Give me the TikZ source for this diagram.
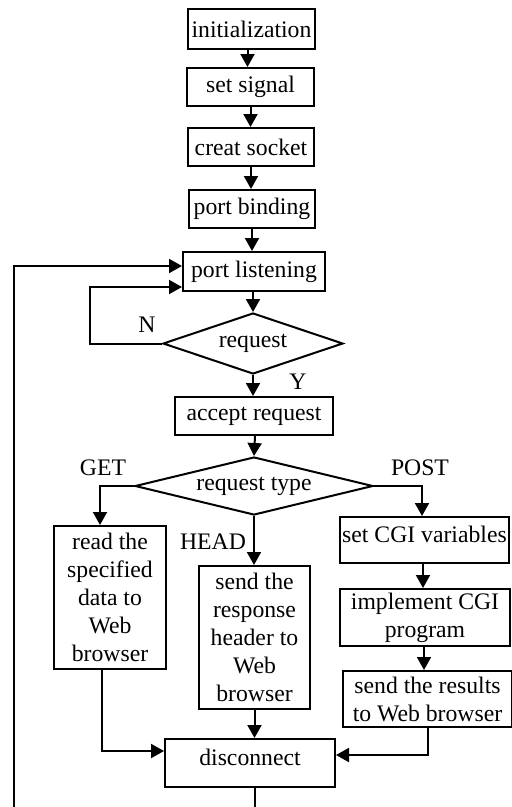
\documentclass[tikz,border=0pt]{standalone}
\usepackage{fontspec}
\setmainfont{Liberation Serif}
\usetikzlibrary{arrows.meta,shapes.geometric}
\begin{document}
\begin{tikzpicture}[x=1pt,y=-1pt,
  font=\fontsize{23.7}{28}\selectfont,
  every path/.style={line width=2pt},
  box/.style={draw,line width=2pt,inner sep=1pt,align=center},
  dia/.style={draw,line width=2pt,shape=diamond,inner sep=0pt},
  arr/.style={-{Triangle[length=13pt,width=14pt]}},
  lbl/.style={inner sep=0pt}]
\useasboundingbox (0,0) rectangle (512,807);
\fill[white] (0,0) rectangle (512,807);
\node[box,minimum width=127pt,minimum height=40pt] (init) at (251.5,29) {initialization};
\node[box,minimum width=127pt,minimum height=38pt] (sig) at (250.5,87) {set signal};
\node[box,minimum width=126pt,minimum height=38pt] (sock) at (251,147) {creat socket};
\node[box,minimum width=126pt,minimum height=38pt] (bind) at (252,209) {port binding};
\node[box,minimum width=142pt,minimum height=39pt] (listen) at (254,271.5) {port listening};
\node[dia,minimum width=180pt,minimum height=61pt,aspect=2.95] (req) at (253,343.5) {request};
\node[box,minimum width=158pt,minimum height=38pt] (acc) at (254,416) {accept request};
\node[dia,minimum width=238pt,minimum height=58pt,aspect=4.1] (type) at (254,486) {request type};
\node[box,minimum width=112pt,minimum height=143pt] (read) at (110,597.5) {read the\\specified\\data to\\Web\\browser};
\node[box,minimum width=111pt,minimum height=143pt] (head) at (254.5,637.5) {send the\\response\\header to\\Web\\browser};
\node[box,minimum width=169pt,minimum height=46pt,label={[lbl,yshift=6pt]center:set CGI variables}] (cgi) at (424.5,540) {};
\node[box,minimum width=170pt,minimum height=57pt] (impl) at (425,617.5) {implement CGI\\program};
\node[box,minimum width=169pt,minimum height=56pt] (res) at (427.5,699) {send the results\\to Web browser};
\node[box,minimum width=170pt,minimum height=48pt,label={[lbl,yshift=6pt]center:disconnect}] (disc) at (250,763) {};
% labels
\node[lbl] (nlab) at (147,325) {N};
\node[lbl] (ylab) at (298,382) {Y};
\node[lbl] (getlab) at (103,468) {GET};
\node[lbl] (postlab) at (420,468) {POST};
\node[lbl] (headlab) at (213,542) {HEAD};
\coordinate (bl) at (14,807);
\coordinate (bd) at (255,807);
% connectors
\draw[arr] ([xshift=-4pt]init.south) -- ([xshift=-4pt]init.south |- sig.north);
\draw[arr] (sig.south) -- (sig.south |- sock.north);
\draw[arr] (sock.south) -- (sock.south |- bind.north);
\draw[arr] (bind.south) -- (bind.south |- listen.north);
\draw[arr] ([xshift=-1pt]listen.south) -- (req.north);
\draw[arr] (req.west) -| (90,287) -- (listen.west |- 90,287);
\draw[arr] (bl) |- (listen.west |- 0,266);
\draw[arr] (req.south) -- (req.south |- acc.north);
\draw[arr] ([xshift=1pt]acc.south) -- (type.north);
\draw[arr] (type.west) -| ([xshift=-10pt]read.north);
\draw[arr] (type.south) -- (type.south |- head.north);
\draw[arr] (type.east) -| ([xshift=-2.5pt]cgi.north);
\draw[arr] ([xshift=-1.5pt]cgi.south) -- ([xshift=-1.5pt]cgi.south |- impl.north);
\draw[arr] ([xshift=-1pt]impl.south) -- ([xshift=-1pt]impl.south |- res.north);
\draw[arr] ([xshift=-8pt]read.south) |- ([yshift=12pt]disc.west);
\draw[arr] (head.south) -- (head.south |- disc.north);
\draw[arr] ([xshift=0.5pt]res.south) |- ([yshift=8pt]disc.east);
\draw (bd |- disc.south) -- (bd);
\end{tikzpicture}
\end{document}
